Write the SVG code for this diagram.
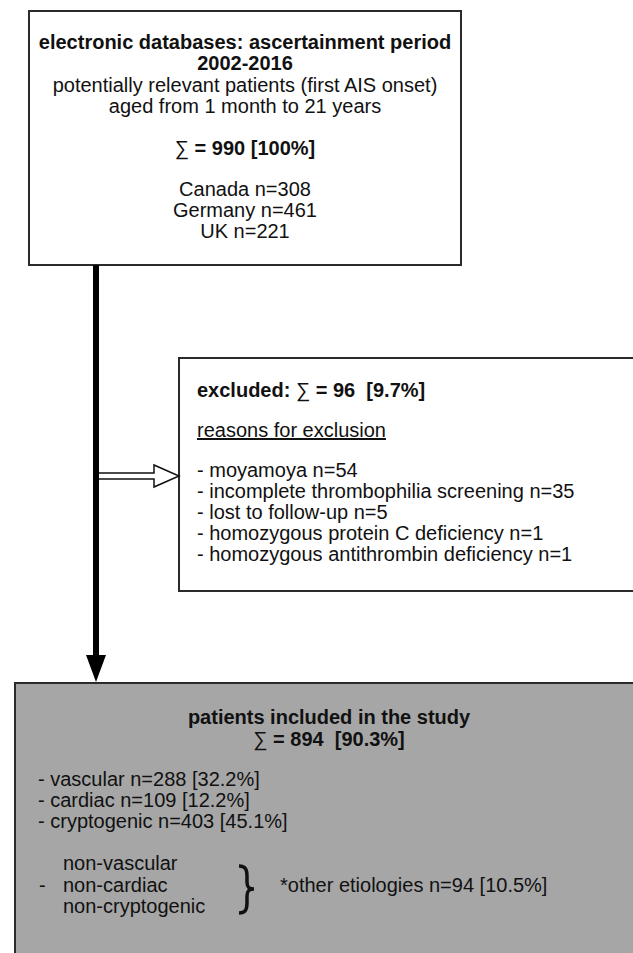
<svg xmlns="http://www.w3.org/2000/svg" width="633" height="953" viewBox="0 0 633 953">
<style>
.t{font-family:"Liberation Sans",Arial,sans-serif;font-size:20px;fill:#111;white-space:pre}
.b{font-weight:bold}
.c{text-anchor:middle}
.s{font-weight:normal}
.box{stroke:#2a2a2a;stroke-width:2}
</style>
<rect width="633" height="953" fill="#ffffff"/>
<g id="node-databases">
<rect class="box" x="29" y="11" width="432" height="254" fill="#ffffff"/>
<text class="t b c" x="245" y="49">electronic databases: ascertainment period</text>
<text class="t b c" x="245" y="70">2002-2016</text>
<text class="t c" x="245" y="92">potentially relevant patients (first AIS onset)</text>
<text class="t c" x="245" y="113">aged from 1 month to 21 years</text>
<text class="t b c" x="245" y="155"><tspan class="s">∑</tspan> = 990 [100%]</text>
<text class="t c" x="245" y="196">Canada n=308</text>
<text class="t c" x="245" y="217">Germany n=461</text>
<text class="t c" x="245" y="238">UK n=221</text>
</g>
<g id="node-excluded">
<rect class="box" x="179" y="358" width="470" height="233" fill="#ffffff"/>
<text class="t b" x="197" y="397">excluded: <tspan class="s">∑</tspan> = 96  [9.7%]</text>
<text class="t" x="197" y="437" text-decoration="underline">reasons for exclusion</text>
<text class="t" x="197" y="477">- moyamoya n=54</text>
<text class="t" x="197" y="498">- incomplete thrombophilia screening n=35</text>
<text class="t" x="197" y="519">- lost to follow-up n=5</text>
<text class="t" x="197" y="540">- homozygous protein C deficiency n=1</text>
<text class="t" x="197" y="561">- homozygous antithrombin deficiency n=1</text>
</g>
<g id="node-included">
<rect class="box" x="15" y="683" width="640" height="300" fill="#a6a6a6"/>
<text class="t b c" x="329" y="724">patients included in the study</text>
<text class="t b c" x="329" y="746"><tspan class="s">∑</tspan> = 894  [90.3%]</text>
<text class="t" x="38" y="786">- vascular n=288 [32.2%]</text>
<text class="t" x="38" y="807">- cardiac n=109 [12.2%]</text>
<text class="t" x="38" y="828">- cryptogenic n=403 [45.1%]</text>
<text class="t" x="39" y="892">-</text>
<text class="t" x="63" y="870">non-vascular</text>
<text class="t" x="63" y="892">non-cardiac</text>
<text class="t" x="63" y="913">non-cryptogenic</text>
<path d="M239,866 C246,866 247,870 247,877 L247,882 C247,887 249,889 254,889 C249,889 247,891 247,896 L247,902 C247,909 246,913 239,913" fill="none" stroke="#111" stroke-width="3.5"/>
<text class="t" x="280" y="892">*other etiologies n=94 [10.5%]</text>
</g>
<g id="connectors">
<polygon points="97,473 154,473 154,465 179,476 154,487 154,479 97,479" fill="#ffffff" stroke="#111" stroke-width="1.5" stroke-linejoin="miter"/>
<line x1="96" y1="265" x2="96" y2="657" stroke="#000" stroke-width="6"/>
<polygon points="86,655 106,655 96,682" fill="#000"/>
</g>
</svg>
